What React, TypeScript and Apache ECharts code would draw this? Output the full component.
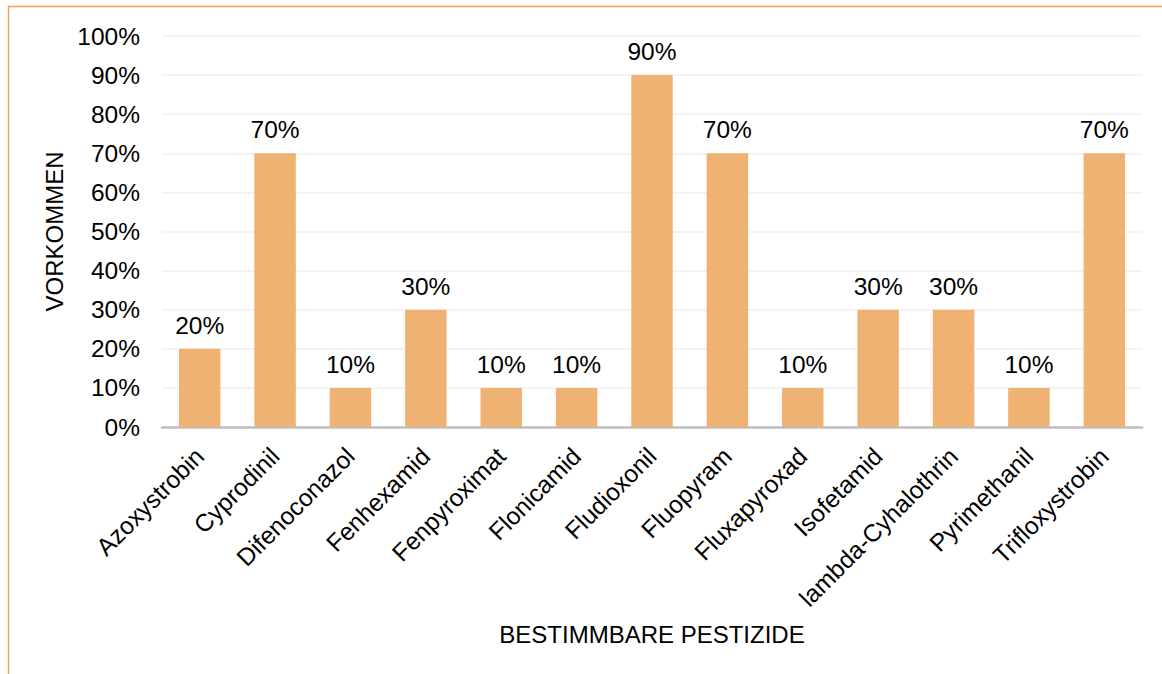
import React, { useEffect, useRef } from "react";
import * as echarts from "echarts";

const categories = [
  "Azoxystrobin",
  "Cyprodinil",
  "Difenoconazol",
  "Fenhexamid",
  "Fenpyroximat",
  "Flonicamid",
  "Fludioxonil",
  "Fluopyram",
  "Fluxapyroxad",
  "Isofetamid",
  "lambda-Cyhalothrin",
  "Pyrimethanil",
  "Trifloxystrobin",
];
const values = [20, 70, 10, 30, 10, 10, 90, 70, 10, 30, 30, 10, 70];
const yTicks = [0, 10, 20, 30, 40, 50, 60, 70, 80, 90, 100];

export default function App() {
  const ref = useRef<HTMLDivElement>(null);
  useEffect(() => {
    if (!ref.current) return;
    const chart = echarts.init(ref.current, undefined, { renderer: "svg" });
    const font = "Liberation Sans, Arial, sans-serif";
    const fs = 24.5;
    chart.setOption({
      animation: false,
      backgroundColor: "#ffffff",
      textStyle: { fontFamily: font },
      graphic: [
        {
          type: "rect",
          shape: { x: 8.5, y: 6.5, width: 1200, height: 700 },
          style: { fill: "none", stroke: "#E9A461", lineWidth: 1.5 },
          silent: true,
        },
      ],
      grid: { left: 162, right: 20, top: 36, bottom: 247, containLabel: false },
      xAxis: {
        type: "category",
        data: categories,
        name: "BESTIMMBARE PESTIZIDE",
        nameLocation: "middle",
        nameGap: 195,
        nameTextStyle: { fontSize: 24, color: "#000", fontFamily: font },
        axisLine: { lineStyle: { color: "#BFBFBF", width: 2.5 } },
        axisTick: { show: false },
        axisLabel: {
          rotate: 45,
          interval: 0,
          fontSize: fs,
          color: "#000",
          margin: 25,
          fontFamily: font,
        },
      },
      yAxis: {
        type: "value",
        min: 0,
        max: 100,
        interval: 10,
        name: "VORKOMMEN",
        nameLocation: "middle",
        nameGap: 90,
        nameRotate: 90,
        nameTextStyle: { fontSize: 24, color: "#000", fontFamily: font },
        axisLine: { show: false },
        axisTick: { show: false },
        splitLine: { lineStyle: { color: "#EFEFEF", width: 1.5 } },
        axisLabel: {
          fontSize: fs,
          color: "#000",
          margin: 22,
          fontFamily: font,
          formatter: (v: number) => (yTicks.includes(v) ? v + "%" : ""),
        },
      },
      series: [
        {
          type: "bar",
          data: values,
          barWidth: "55%",
          itemStyle: { color: "#F0B273" },
          label: {
            show: true,
            position: "top",
            distance: 11,
            fontSize: fs,
            color: "#000",
            fontFamily: font,
            formatter: (p: any) => p.value + "%",
          },
        },
      ],
    });
    return () => chart.dispose();
  }, []);
  return (
    <div
      ref={ref}
      style={{ position: "absolute", left: 0, top: 0, width: 1162, height: 674 }}
    />
  );
}
